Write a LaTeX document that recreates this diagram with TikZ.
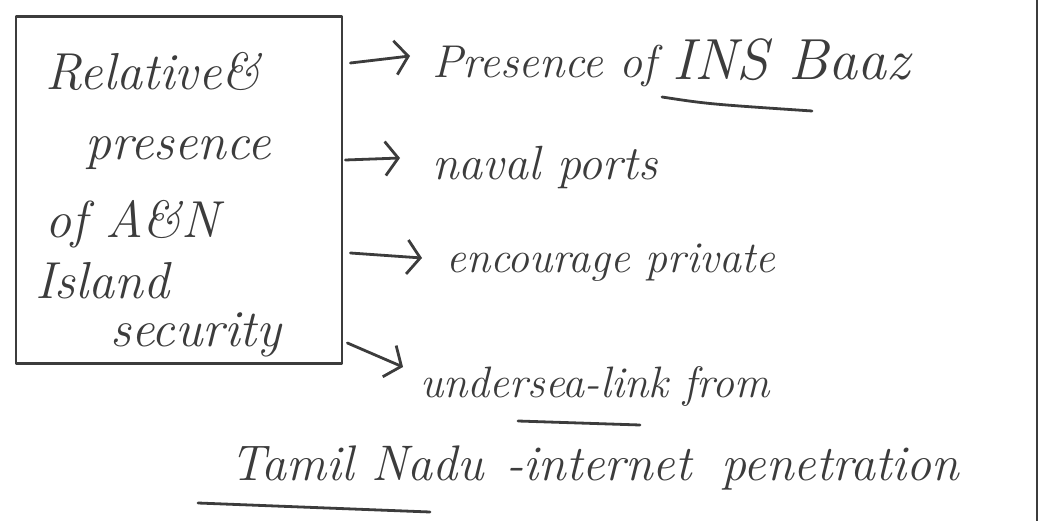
\documentclass[tikz,border=0pt]{standalone}
\usetikzlibrary{arrows.meta,calc}
\definecolor{ink}{HTML}{3C3C3C}
\begin{document}
\begin{tikzpicture}[x=1pt,y=-1pt,
  pen/.style={draw=ink,line width=2.8pt,line cap=round,line join=round},
  arr/.style={pen,-{Straight Barb[length=13pt,width=34pt,line width=2.8pt]}},
  txt/.style={text=ink,inner sep=0pt,anchor=base west,font=\itshape},
  boxfont/.style={font=\itshape\fontsize{52}{60}\selectfont},
  frame/.style={pen,rectangle,minimum width=326pt,minimum height=347pt,inner sep=0pt}]
\useasboundingbox (0,0) rectangle (1043,521);
% box
\node[frame] (box) at (179,190) {};
% box text
\node[txt,boxfont] (b1) at (45,90) {Relative\&};
\node[txt,boxfont] (b2) at (85,160) {presence};
\node[txt,boxfont] (b3) at (45,238) {of A\&N};
\node[txt,boxfont] (b4) at (35,298) {Island};
\node[txt,boxfont] (b5) at (110,346) {security};
% right texts
\node[txt,font=\itshape\fontsize{46}{54}\selectfont] (t1) at (432,78) {Presence of};
\node[txt,font=\itshape\fontsize{58}{66}\selectfont] (t1b) at (672,80) {INS Baaz};
\node[txt,font=\itshape\fontsize{48}{56}\selectfont] (t2) at (432,180) {naval ports};
\node[txt,font=\itshape\fontsize{44}{52}\selectfont] (t3) at (446,272) {encourage private};
\node[txt,font=\itshape\fontsize{44}{52}\selectfont] (t4) at (420,397) {undersea-link from};
\node[txt,font=\itshape\fontsize{50}{58}\selectfont] (t5) at (230,480) {Tamil Nadu\hspace{22pt}-internet\hspace{12pt} penetration};
% arrows
\draw[arr] ($(box.east |- t1.base west)+(7,-15)$) -- ($(t1.base west)+(-22,-22)$);
\draw[arr] ($(box.east |- t2.base west)+(2,-20)$) -- ($(t2.base west)+(-32,-22)$);
\draw[arr] ($(box.east |- t3.base west)+(7,-19)$) -- ($(t3.base west)+(-24,-14)$);
\draw[arr] ($(box.east |- t4.base west)+(4,-54)$) -- ($(t4.base west)+(-17,-30)$);
% underlines
\coordinate (u1a) at (662,97); \coordinate (u1b) at (812,111);
\draw[pen] (u1a) .. controls (708,104) .. (u1b);
\coordinate (u2a) at (518,421); \coordinate (u2b) at (640,425);
\draw[pen] (u2a) -- (u2b);
\coordinate (u3a) at (198,503); \coordinate (u3b) at (430,512);
\draw[pen] (u3a) -- (u3b);
% page edge
\coordinate (e1) at (1037,0); \coordinate (e2) at (1037,521);
\draw[pen] (e1) -- (e2);
\end{tikzpicture}
\end{document}
